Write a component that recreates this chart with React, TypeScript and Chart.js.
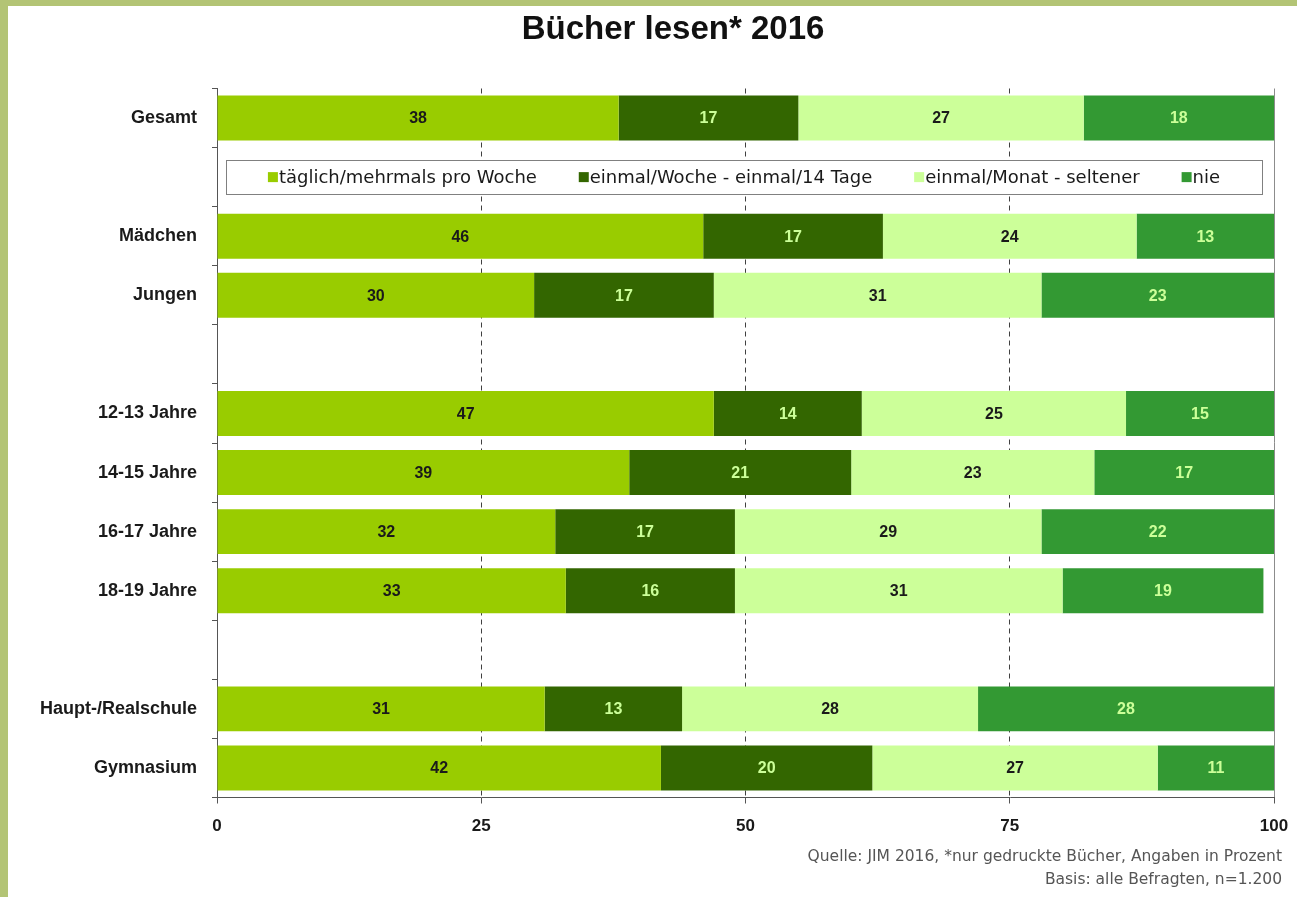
import React, { useEffect, useRef } from 'react';
import { Chart, registerables } from 'chart.js';

Chart.register(...registerables);

const TITLE = 'Bücher lesen* 2016';
const CATEGORIES = ['Gesamt', '', 'Mädchen', 'Jungen', '', '12-13 Jahre', '14-15 Jahre', '16-17 Jahre', '18-19 Jahre', '', 'Haupt-/Realschule', 'Gymnasium'];
const SERIES_NAMES = ['täglich/mehrmals pro Woche', 'einmal/Woche - einmal/14 Tage', 'einmal/Monat - seltener', 'nie'];
const DAILY = [38, null, 46, 30, null, 47, 39, 32, 33, null, 31, 42];
const WEEKLY = [17, null, 17, 17, null, 14, 21, 17, 16, null, 13, 20];
const MONTHLY = [27, null, 24, 31, null, 25, 23, 29, 31, null, 28, 27];
const NEVER = [18, null, 13, 23, null, 15, 17, 22, 19, null, 28, 11];
const X_TICKS = ['0', '25', '50', '75', '100'];
const FOOTNOTES = ['Quelle: JIM 2016, *nur gedruckte Bücher, Angaben in Prozent', 'Basis: alle Befragten, n=1.200'];

const COLORS = ['#99cc00', '#336600', '#ccff99', '#339933'];
const LABEL_COLORS = ['#1a1a1a', '#ccff99', '#1a1a1a', '#ccff99'];
const SANS = "'Liberation Sans', Arial, sans-serif";
const WIDE = "'DejaVu Sans', Verdana, sans-serif";

const W = 1297;
const H = 897;

const backgroundPlugin = {
  id: 'bg',
  beforeDraw(chart: any) {
    const c = chart.ctx;
    c.save();
    c.fillStyle = '#b3c475';
    c.fillRect(0, 0, W, H);
    c.fillStyle = '#ffffff';
    c.fillRect(8, 6, W - 8, H - 6);
    c.restore();
  },
};

const titlePlugin = {
  id: 'customTitle',
  afterDraw(chart: any) {
    const c = chart.ctx;
    c.save();
    c.font = `bold 33px ${SANS}`;
    c.fillStyle = '#111';
    c.textAlign = 'center';
    c.textBaseline = 'middle';
    c.fillText(TITLE, 673, 30);
    c.restore();
  },
};

const footerPlugin = {
  id: 'footer',
  afterDraw(chart: any) {
    const c = chart.ctx;
    c.save();
    c.font = `15.5px ${WIDE}`;
    c.fillStyle = '#555';
    c.textAlign = 'right';
    c.textBaseline = 'middle';
    FOOTNOTES.forEach((t, i) => c.fillText(t, 1282, 857 + i * 23));
    c.restore();
  },
};

const valueLabelPlugin = {
  id: 'valueLabels',
  afterDatasetsDraw(chart: any) {
    const c = chart.ctx;
    c.save();
    c.font = `bold 16px ${SANS}`;
    c.textAlign = 'center';
    c.textBaseline = 'middle';
    chart.data.datasets.forEach((ds: any, di: number) => {
      const meta = chart.getDatasetMeta(di);
      meta.data.forEach((el: any, i: number) => {
        const v = ds.data[i];
        if (v === null || v === undefined) return;
        const right = Math.min(el.x, chart.chartArea.right);
        c.fillStyle = LABEL_COLORS[di];
        c.fillText(String(v), (right + el.base) / 2, el.y + 1);
      });
    });
    c.restore();
  },
};

const legendPlugin = {
  id: 'boxLegend',
  afterDatasetsDraw(chart: any) {
    const c = chart.ctx;
    const area = chart.chartArea;
    const cy = chart.scales.y.getPixelForValue(1);
    const left = area.left + 9;
    const right = area.right - 12;
    const h = 34;
    const top = Math.round(cy - h / 2) + 0.5;
    c.save();
    c.fillStyle = '#ffffff';
    c.fillRect(left, top, right - left, h);
    c.strokeStyle = '#808080';
    c.lineWidth = 1;
    c.strokeRect(left + 0.5, top, right - left, h);
    c.font = `18px ${WIDE}`;
    c.textBaseline = 'middle';
    c.textAlign = 'left';
    const names = chart.data.datasets.map((d: any) => d.label);
    const widths = names.map((n: string) => c.measureText(n).width + 11);
    const total = widths.reduce((a: number, b: number) => a + b, 0);
    const gap = (right - left - total) / (names.length + 1);
    let x = left + gap;
    names.forEach((n: string, i: number) => {
      c.fillStyle = chart.data.datasets[i].backgroundColor;
      c.fillRect(x, cy - 5, 10, 10);
      c.fillStyle = '#1a1a1a';
      c.fillText(n, x + 11, cy + 1);
      x += widths[i] + gap;
    });
    c.restore();
  },
};

export default function App() {
  const ref = useRef<HTMLCanvasElement | null>(null);

  useEffect(() => {
    const canvas = ref.current;
    if (!canvas) return;
    const seriesData = [DAILY, WEEKLY, MONTHLY, NEVER];
    const chart = new Chart(canvas, {
      type: 'bar',
      data: {
        labels: CATEGORIES,
        datasets: seriesData.map((d, i) => ({
          label: SERIES_NAMES[i],
          data: d,
          backgroundColor: COLORS[i],
          borderWidth: 0,
          barPercentage: 0.76,
          categoryPercentage: 1,
        })),
      },
      options: {
        indexAxis: 'y',
        responsive: false,
        animation: false,
        events: [],
        layout: { padding: { left: 0, top: 88.5, right: 23, bottom: 59.5 } },
        plugins: {
          legend: { display: false },
          title: { display: false },
          tooltip: { enabled: false },
        },
        scales: {
          x: {
            type: 'linear',
            stacked: true,
            min: 0,
            max: 100,
            ticks: {
              stepSize: 25,
              color: '#1a1a1a',
              font: { family: SANS, size: 17, weight: 'bold' },
              padding: 13,
              callback: (_v: any, i: number) => X_TICKS[i],
            },
            grid: {
              drawTicks: true,
              tickLength: 6,
              tickColor: '#555',
              tickBorderDash: [],
              color: (ctx: any) => {
                const v = ctx.tick ? ctx.tick.value : 0;
                if (v === 0) return 'rgba(0,0,0,0)';
                if (v === 100) return '#8c8c8c';
                return '#404040';
              },
              lineWidth: 1,
            },
            border: {
              display: true,
              color: '#555',
              width: 1,
              dash: (ctx: any) => (ctx.tick && ctx.tick.value !== 100 ? [5, 4] : []),
            },
            afterFit: (s: any) => {
              s.height = 40;
              s.paddingLeft = 0;
              s.paddingRight = 0;
            },
          },
          y: {
            type: 'category',
            stacked: true,
            ticks: {
              color: '#1a1a1a',
              font: { family: SANS, size: 18, weight: 'bold' },
              padding: 15,
            },
            grid: {
              offset: true,
              drawOnChartArea: false,
              drawTicks: true,
              tickLength: 5,
              color: '#555',
            },
            border: { display: true, color: '#555', width: 1 },
            afterFit: (s: any) => {
              s.width = 217;
              s.paddingTop = 0;
              s.paddingBottom = 0;
            },
          },
        },
      } as any,
      plugins: [backgroundPlugin, legendPlugin, valueLabelPlugin, titlePlugin, footerPlugin],
    });
    return () => chart.destroy();
  }, []);

  return (
    <div style={{ position: 'absolute', left: 0, top: 0, width: W, height: H }}>
      <canvas ref={ref} width={W} height={H} style={{ width: W, height: H, display: 'block' }} />
    </div>
  );
}
